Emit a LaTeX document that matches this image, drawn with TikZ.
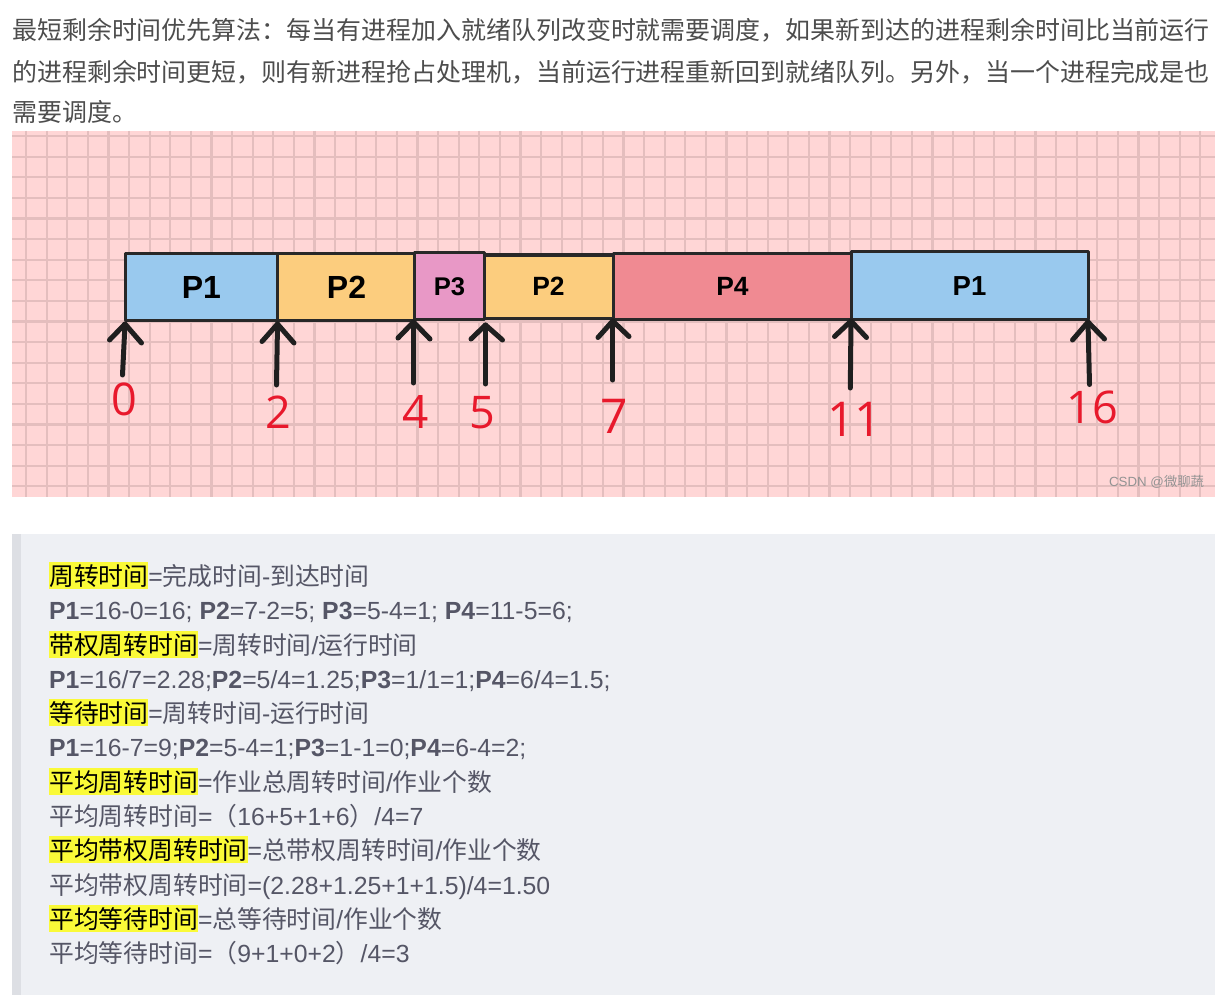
\documentclass[tikz,border=0pt]{standalone}
\usepackage{fontspec}
\setmainfont{Liberation Sans}
\newfontfamily\cjk{Noto Sans CJK SC}
\newfontfamily\numfont{Open Sans}
\definecolor{gridbg}{HTML}{FFD6D6}
\definecolor{gridln}{HTML}{E4BEBE}
\definecolor{boxbg}{HTML}{EEF0F4}
\definecolor{barc}{HTML}{DDDFE4}
\definecolor{toptxt}{HTML}{4D4D4D}
\definecolor{txtc}{HTML}{555666}
\definecolor{hly}{HTML}{FAFA38}
\definecolor{cpone}{HTML}{99C9EE}
\definecolor{cptwo}{HTML}{FCCD7E}
\definecolor{cpthree}{HTML}{E898C6}
\definecolor{cpfour}{HTML}{F08A92}
\definecolor{edgec}{HTML}{282828}
\definecolor{arrc}{HTML}{1F1F1F}
\definecolor{numred}{HTML}{E8192C}
\newcommand\zh[1]{{\cjk #1}}
\newcommand\hlt[1]{{\setlength{\fboxsep}{0pt}\colorbox{hly}{\rule[-3.6pt]{0pt}{27pt}\color{black}\cjk #1}}}
\tikzset{
  topline/.style={anchor=base west, inner sep=0pt, text=toptxt, font=\cjk\fontsize{24.95}{30}\selectfont},
  txtline/.style={anchor=base west, inner sep=0pt, text=txtc, font=\fontsize{24.8}{30}\selectfont},
  gbox/.style={draw=edgec, line width=3pt, line join=round},
  plabel/.style={inner sep=0pt, text depth=0pt, text=black, font=\bfseries\fontsize{#1}{#1}\selectfont},
  tick/.style={draw=arrc, line width=5pt, line cap=round, line join=round},
  tnum/.style={inner sep=0pt, text depth=0pt, text=numred, font=\numfont\fontsize{#1}{#1}\selectfont},
}
\begin{document}
\begin{tikzpicture}[x=1pt,y=-1pt]
\useasboundingbox (0,0) rectangle (1225,1008);
\fill[white] (0,0) rectangle (1225,1008);
% top paragraph
\node[topline] (p1) at (12,39.5) {最短剩余时间优先算法：每当有进程加入就绪队列改变时就需要调度，如果新到达的进程剩余时间比当前运行};
\node[topline] (p2) at (12,81.5) {的进程剩余时间更短，则有新进程抢占处理机，当前运行进程重新回到就绪队列。另外，当一个进程完成是也};
\node[topline] (p3) at (12,122) {需要调度。};
% grid
\fill[gridbg] (12,131) rectangle (1215,497);
\begin{scope}
\clip (12,131) rectangle (1215,497);
\foreach \k in {0,...,57} { \draw[gridln, line width=2.2pt] ({26+\k*20.6},131) -- ({26+\k*20.6},497); }
\foreach \k in {0,...,17} { \draw[gridln, line width=2.2pt] (12,{136.1+\k*20.6}) -- (1215,{136.1+\k*20.6}); }
\end{scope}
% gantt boxes
\fill[cpone] (125,253.5) rectangle (277.7,320);
\fill[cptwo] (277.7,253.5) rectangle (414,320);
\fill[cpthree] (414,252.5) rectangle (484,319.5);
\fill[cptwo] (484,255) rectangle (613,318.5);
\fill[cpfour] (613,254) rectangle (851,319);
\fill[cpone] (851,252) rectangle (1088,319);
\draw[gbox] (125,253.5) rectangle (277.7,320);
\draw[gbox] (277.7,253.5) rectangle (414,320);
\draw[gbox] (414,252.5) rectangle (484,319.5);
\draw[gbox] (484,255) rectangle (613,318.5);
\draw[gbox] (613,254) rectangle (851,319);
\draw[gbox] (851,252) rectangle (1088,319);
\node[plabel=32] (la) at (201.4,287) {P1};
\node[plabel=32] (lb) at (346.5,287) {P2};
\node[plabel=25.6] (lc) at (449.5,287) {P3};
\node[plabel=26.4] (ld) at (548.5,286.5) {P2};
\node[plabel=26.4] (le) at (732.5,286.5) {P4};
\node[plabel=27.5] (lf) at (969.5,286) {P1};
% arrows
\foreach \n/\tx/\ty/\bx/\by/\lx/\ly/\rx/\ry in {
  0/125/324/122.5/375/109.5/340/141.5/343,
  2/277.5/324/276.5/385/262/341.5/294/343,
  4/413.5/322/413.5/383/398/338/430/339,
  5/485.5/325/485.5/384/471/339/502.5/340,
  7/612.7/321/612.7/380/598/337.5/629/336.5,
  11/851/321/850.3/388/834.5/336.5/866.5/337.5,
  16/1088/322/1089.5/384.5/1072.5/340/1104.5/339} {
  \coordinate (tip\n) at (\tx,\ty);
  \coordinate (tail\n) at (\bx,\by);
  \coordinate (al\n) at (\lx,\ly);
  \coordinate (ar\n) at (\rx,\ry);
  \draw[tick] (tail\n) -- (tip\n);
  \draw[tick] (al\n) -- (tip\n) -- (ar\n);
}
% numbers
\node[tnum=45] (n0) at (124,399) {0};
\node[tnum=45] (n2) at (278.8,412) {2};
\node[tnum=46] (n4) at (415.7,411.7) {4};
\node[tnum=45] (n5) at (482.3,412) {5};
\node[tnum=48] (n7) at (614.7,416) {7};
\node[tnum=48] (n11) at (854.5,419) {11};
\node[tnum=45] (n16) at (1092.7,407) {16};
% watermark
\node[inner sep=0pt, text=gray!85, font=\fontsize{13.3}{13.3}\selectfont] (wm) at (1156.5,482) {CSDN @\zh{微聊蔬}};
% quote box
\fill[boxbg] (12,534) rectangle (1215,995);
\fill[barc] (12,534) rectangle (21,995);
\node[txtline] (q1) at (49,585.4) {\hlt{周转时间}=\zh{完成时间}-\zh{到达时间}};
\node[txtline] (q2) at (49,619.7) {\textbf{P1}=16-0=16; \textbf{P2}=7-2=5; \textbf{P3}=5-4=1; \textbf{P4}=11-5=6;};
\node[txtline] (q3) at (49,654) {\hlt{带权周转时间}=\zh{周转时间}/\zh{运行时间}};
\node[txtline] (q4) at (49,688.3) {\textbf{P1}=16/7=2.28;\textbf{P2}=5/4=1.25;\textbf{P3}=1/1=1;\textbf{P4}=6/4=1.5;};
\node[txtline] (q5) at (49,722.6) {\hlt{等待时间}=\zh{周转时间}-\zh{运行时间}};
\node[txtline] (q6) at (49,756.9) {\textbf{P1}=16-7=9;\textbf{P2}=5-4=1;\textbf{P3}=1-1=0;\textbf{P4}=6-4=2;};
\node[txtline] (q7) at (49,791.2) {\hlt{平均周转时间}=\zh{作业总周转时间}/\zh{作业个数}};
\node[txtline] (q8) at (49,825.5) {\zh{平均周转时间}=\zh{（}16+5+1+6\zh{）}/4=7};
\node[txtline] (q9) at (49,859.8) {\hlt{平均带权周转时间}=\zh{总带权周转时间}/\zh{作业个数}};
\node[txtline] (q10) at (49,894.1) {\zh{平均带权周转时间}=(2.28+1.25+1+1.5)/4=1.50};
\node[txtline] (q11) at (49,928.4) {\hlt{平均等待时间}=\zh{总等待时间}/\zh{作业个数}};
\node[txtline] (q12) at (49,962.7) {\zh{平均等待时间}=\zh{（}9+1+0+2\zh{）}/4=3};
\end{tikzpicture}
\end{document}
